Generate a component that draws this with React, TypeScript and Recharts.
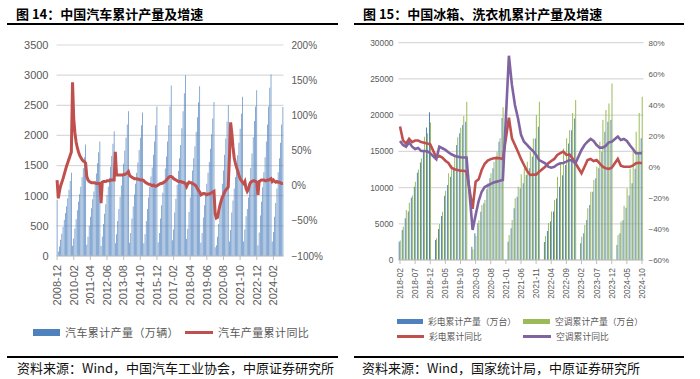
import { Bar, CartesianGrid, ComposedChart, Line, XAxis, YAxis } from "recharts";

// 图14 汽车累计产量（万辆），2008-12 ~ 2024-10，按年分行
const carOutput = [
  935,
  74, 157, 268, 368, 482, 600, 714, 824, 957, 1100, 1245, 1380,
  168, 292, 455, 611, 760, 900, 1025, 1150, 1306, 1456, 1640, 1850,
  185, 320, 500, 650, 790, 940, 1070, 1210, 1370, 1540, 1720, 1900,
  165, 325, 530, 700, 860, 1010, 1150, 1300, 1480, 1660, 1860, 2070,
  210, 360, 580, 780, 980, 1170, 1350, 1530, 1750, 1960, 2180, 2400,
  220, 380, 620, 820, 1020, 1200, 1380, 1550, 1760, 1960, 2170, 2380,
  210, 360, 580, 780, 970, 1150, 1320, 1470, 1680, 1900, 2170, 2480,
  230, 380, 620, 840, 1050, 1250, 1450, 1650, 1900, 2170, 2480, 2830,
  260, 440, 720, 950, 1180, 1410, 1620, 1840, 2120, 2400, 2700, 3000,
  280, 450, 730, 970, 1200, 1420, 1620, 1820, 2060, 2300, 2550, 2815,
  220, 380, 640, 840, 1020, 1200, 1380, 1560, 1780, 2020, 2280, 2555,
  145, 180, 320, 530, 750, 990, 1200, 1420, 1680, 1950, 2230, 2500,
  240, 430, 720, 920, 1120, 1310, 1490, 1670, 1880, 2110, 2360, 2640,
  240, 440, 660, 780, 970, 1220, 1460, 1700, 1970, 2240, 2480, 2750,
  180, 390, 670, 900, 1140, 1390, 1640, 1900, 2180, 2480, 2790, 3010,
  240, 400, 650, 880, 1120, 1390, 1620, 1880, 2180, 2470,
];

// 汽车产量累计同比（%）
const carYoY = [
  8,
  -18, -8, 0, 5, 10, 16, 22, 28, 33, 38, 43, 48,
  147, 95, 75, 62, 54, 48, 43, 40, 37, 35, 34, 32,
  13, 8, 6, 5, 4, 4, 4, 4, 3, 3, 3, 3,
  -25, 5, 6, 6, 6, 7, 7, 7, 8, 8, 8, 8,
  48, 15, 15, 15, 15, 15, 15, 16, 16, 17, 18, 20,
  15, 13, 12, 11, 10, 10, 10, 9, 9, 8, 8, 8,
  7, 5, 4, 3, 2, 2, 1, 0, 1, 0, -1, 0,
  1, 2, 3, 3, 4, 5, 6, 8, 10, 12, 13, 13,
  12, 10, 9, 8, 7, 6, 6, 6, 5, 5, 4, 3,
  -1, 3, 5, 4, 4, 3, 2, 1, -1, -4, -7, -9,
  -13, -12, -11, -11, -12, -13, -12, -12, -11, -10, -9, -8,
  -40, -46, -45, -36, -28, -22, -17, -13, -9, -6, -4, -2,
  40, 90, 75, 55, 40, 32, 26, 21, 15, 10, 7, 5,
  3, 6, -4, -8, -5, 2, 5, 6, 7, 7, 6, 5,
  -13, 6, 7, 8, 8, 8, 7, 7, 8, 8, 9, 10,
  6, 8, 6, 5, 6, 5, 5, 4, 3, 3,
];

// 图15，2018-02 ~ 2024-10，1月无数据
const tvOutput = [
  2520, 4150, 5750, 6700, 8600, 10100, 12050, 13450, 15000, 18300, 20400,
  null, 2760, 4280, 6070, 8880, 10350, 11500, 12430, 15880, 17490, 18640, 19100,
  null, 1840, 3680, 5060, 6670, 7820, 9760, 11270, 12650, 14040, 16340, 19600,
  null, 2530, 4370, 7130, 8740, 9890, 10580, 11730, 12650, 14260, 16790, 18400,
  null, 2500, 4000, 5300, 6700, 8500, 10100, 11700, 13100, 16100, 17900, 19550,
  null, 2300, 3680, 5520, 7590, 9430, 11270, 12650, 14950, 17710, 19090, 19320,
  null, 2070, 3700, 5500, 7200, 8900, 10600, 12600, 14700, 16800,
];

const acOutput = [
  2700, 4600, 6900, 7900, 8900, 10800, 12500, 14000, 17000, 17500, 19000,
  null, 3000, 4970, 6670, 9570, 11960, 13120, 14360, 16930, 18270, 19880, 21860,
  null, 1500, 3300, 5500, 7600, 8280, 10580, 11960, 13580, 14960, 16800, 21100,
  null, 3450, 5520, 8510, 10120, 11830, 12650, 13570, 14950, 16790, 20010, 21850,
  null, 3300, 5100, 6700, 8300, 11500, 13500, 15400, 16800, 17900, 20300, 22100,
  null, 3220, 4830, 7130, 9430, 11040, 12880, 16330, 19320, 20700, 21620, 24380,
  null, 3450, 5300, 7500, 9900, 12600, 15000, 17700, 20300, 22540,
];

const tvYoY = [
  26, 17, 15, 18, 16, 17, 17, 16, 15.5, 15, 14.5,
  null, 6, 7, 6, 4, 2.5, -0.5, -1.5, -2, -2.5, -2.5, -3,
  null, -27, -9.5, -8, -2, 2, 4, 5, 5.5, 5.8, 5.5, 5,
  null, 31.7, 18.4, 14.1, 9.8, 5.1, 1.2, -2.6, -5.2, -5, -5, -3.1,
  null, 0.1, 2.3, 3.8, 5.1, 7.7, 8.8, 9.8, 7.7, 8, 5.5, 2.3,
  null, -4.1, 0.1, 4.4, 5.1, 3.8, 4.4, 2.3, 0.1, -0.9, -1.3, -0.5,
  null, 5.1, 0.8, 0.1, 0.1, 0.1, 0.8, 2.3, 2.6, 2.3,
];

const acYoY = [
  16.7, 14.1, 13, 15.8, 13, 11.5, 12.2, 10.2, 10.2, 10, 8.8,
  null, 5, 13, 12, 10.9, 9.4, 8.1, 7.2, 6.6, 6.2, 6, 6,
  null, -40.6, -31, -22, -16, -13, -12, -11, -10, -9.5, -9, -8.4,
  null, 71.6, 52.8, 39.9, 31.3, 20.6, 16.2, 14.1, 12, 10.2, 7.7, 4.4,
  null, 2.3, 0.1, -0.5, 0.1, 1.5, 2.3, 2.5, 3.4, 4.4, 4, 2.3,
  null, 10.9, 14.1, 16.2, 18, 16.7, 14.1, 12.4, 12.4, 13.5, 15.8, 16.2,
  null, 19.5, 17.3, 18, 16.7, 13.9, 11.5, 8.8, 8.8, 8.8,
];

const carLeftTicks = [0, 500, 1000, 1500, 2000, 2500, 3000, 3500];
const carRightTicks = [-100, -50, 0, 50, 100, 150, 200];
const applLeftTicks = [0, 5000, 10000, 15000, 20000, 25000, 30000];
const applRightTicks = [-60, -40, -20, 0, 20, 40, 60, 80];

function monthRange(year: number, month: number, count: number) {
  const out: string[] = [];
  let y = year;
  let m = month;
  for (let i = 0; i < count; i++) {
    out.push(`${y}-${String(m).padStart(2, "0")}`);
    m += 1;
    if (m > 12) {
      m = 1;
      y += 1;
    }
  }
  return out;
}

const carMonths = monthRange(2008, 12, carOutput.length);
const applMonths = monthRange(2018, 2, tvOutput.length);

const carData = carMonths.map((month, i) => ({
  month,
  output: carOutput[i],
  yoy: carYoY[i],
}));

const applData = applMonths.map((month, i) => ({
  month,
  tv: tvOutput[i],
  ac: acOutput[i],
  tvYoY: tvYoY[i],
  acYoY: acYoY[i],
}));

const NUM_FONT = '"Liberation Sans", Arial, sans-serif';
const CJK_FONT = '"Noto Sans CJK SC", "Noto Sans", sans-serif';
const AXIS_GRAY = "#595959";

function pct(v: number) {
  return v < 0 ? `\u2212${Math.abs(v)}%` : `${v}%`;
}

function VerticalTick(props: any) {
  const { x, y, payload, fontSize } = props;
  return (
    <text
      x={x}
      y={y}
      dy="0.35em"
      textAnchor="end"
      transform={`rotate(-90, ${x}, ${y})`}
      fill={AXIS_GRAY}
      fontSize={fontSize}
      fontFamily={NUM_FONT}
    >
      {payload.value}
    </text>
  );
}

function Title({ left, text }: { left: number; text: string }) {
  return (
    <div
      style={{
        position: "absolute",
        left,
        top: 5,
        fontFamily: CJK_FONT,
        fontWeight: 700,
        fontSize: 13,
        lineHeight: "17px",
        color: "#000",
        whiteSpace: "nowrap",
      }}
    >
      {text}
    </div>
  );
}

function Rule({ left, top, width }: { left: number; top: number; width: number }) {
  return (
    <div
      style={{ position: "absolute", left, top, width, height: 2, background: "#000" }}
    />
  );
}

function LegendItem({
  left,
  top,
  color,
  kind,
  label,
  swatchWidth,
  fontSize,
}: {
  left: number;
  top: number;
  color: string;
  kind: "box" | "line";
  label: string;
  swatchWidth: number;
  fontSize: number;
}) {
  const h = kind === "box" ? (fontSize > 10 ? 7 : 5) : 3;
  return (
    <div
      style={{
        position: "absolute",
        left,
        top: top - 8,
        height: 16,
        display: "flex",
        alignItems: "center",
        whiteSpace: "nowrap",
      }}
    >
      <div style={{ width: swatchWidth, height: h, background: color }} />
      <span
        style={{
          marginLeft: 5,
          fontFamily: CJK_FONT,
          fontSize,
          color: AXIS_GRAY,
          letterSpacing: fontSize > 10 ? 0.4 : 0,
        }}
      >
        {label}
      </span>
    </div>
  );
}

function Source({ left, text }: { left: number; text: string }) {
  return (
    <div
      style={{
        position: "absolute",
        left,
        top: 360,
        fontFamily: CJK_FONT,
        fontSize: 13,
        lineHeight: "16px",
        color: "#111",
        whiteSpace: "nowrap",
      }}
    >
      {text}
    </div>
  );
}

export default function App() {
  return (
    <div
      style={{
        position: "absolute",
        left: 0,
        top: 0,
        width: 700,
        height: 379,
        background: "#fff",
        overflow: "hidden",
      }}
    >
      <Title left={16} text="图 14：中国汽车累计产量及增速" />
      <Rule left={7} top={23} width={331} />
      <Title left={363} text="图 15：中国冰箱、洗衣机累计产量及增速" />
      <Rule left={354} top={23} width={330} />

      <div style={{ position: "absolute", left: 0, top: 0 }}>
        <ComposedChart
          width={350}
          height={379}
          data={carData}
          margin={{ top: 45, right: 16.5, bottom: 73, left: 6.5 }}
          barCategoryGap="22%"
        >
          <CartesianGrid yAxisId="left" vertical={false} stroke="#D9D9D9" strokeWidth={1.2} />
          <XAxis
            dataKey="month"
            interval={13}
            height={50}
            tickSize={4}
            tickMargin={5}
            axisLine={{ stroke: "#BFBFBF" }}
            tickLine={{ stroke: "#BFBFBF" }}
            tick={(p: any) => <VerticalTick {...p} fontSize={11} />}
          />
          <YAxis
            yAxisId="left"
            width={50}
            domain={[0, 3500]}
            ticks={carLeftTicks}
            axisLine={false}
            tickLine={false}
            tick={{ fill: AXIS_GRAY, fontSize: 11, fontFamily: NUM_FONT }}
          />
          <YAxis
            yAxisId="right"
            orientation="right"
            width={50}
            domain={[-100, 200]}
            ticks={carRightTicks}
            tickFormatter={pct}
            axisLine={false}
            tickLine={false}
            tick={{ fill: AXIS_GRAY, fontSize: 10, fontFamily: NUM_FONT, textAnchor: "start" }}
          />
          <Bar
            yAxisId="left"
            dataKey="output"
            fill="#4F81BD"
            isAnimationActive={false}
          />
          <Line
            yAxisId="right"
            dataKey="yoy"
            stroke="#C0504D"
            strokeWidth={3}
            dot={false}
            activeDot={false}
            isAnimationActive={false}
          />
        </ComposedChart>
      </div>

      <div style={{ position: "absolute", left: 350, top: 0 }}>
        <ComposedChart
          width={350}
          height={379}
          data={applData}
          margin={{ top: 42.7, right: 6.5, bottom: 69, left: 6.5 }}
          barCategoryGap="8%"
          barGap={0}
        >
          <CartesianGrid yAxisId="left" vertical={false} stroke="#D9D9D9" strokeWidth={1.2} />
          <XAxis
            dataKey="month"
            interval={4}
            height={50}
            tickSize={4}
            tickMargin={4}
            axisLine={{ stroke: "#BFBFBF" }}
            tickLine={{ stroke: "#BFBFBF" }}
            tick={(p: any) => <VerticalTick {...p} fontSize={8.4} />}
          />
          <YAxis
            yAxisId="left"
            width={42}
            domain={[0, 30000]}
            ticks={applLeftTicks}
            axisLine={false}
            tickLine={false}
            tickSize={0}
            tickMargin={5}
            tick={{ fill: AXIS_GRAY, fontSize: 8.4, fontFamily: NUM_FONT }}
          />
          <YAxis
            yAxisId="right"
            orientation="right"
            width={50}
            domain={[-60, 80]}
            ticks={applRightTicks}
            tickFormatter={pct}
            axisLine={false}
            tickLine={false}
            tickSize={0}
            tickMargin={5}
            tick={{ fill: AXIS_GRAY, fontSize: 8, fontFamily: NUM_FONT, textAnchor: "start" }}
          />
          <Bar yAxisId="left" dataKey="tv" fill="#4F81BD" isAnimationActive={false} />
          <Bar yAxisId="left" dataKey="ac" fill="#9BBB59" isAnimationActive={false} />
          <Line
            yAxisId="right"
            dataKey="tvYoY"
            stroke="#C0504D"
            strokeWidth={2.6}
            dot={false}
            activeDot={false}
            connectNulls
            isAnimationActive={false}
          />
          <Line
            yAxisId="right"
            dataKey="acYoY"
            stroke="#8064A2"
            strokeWidth={2.6}
            dot={false}
            activeDot={false}
            connectNulls
            isAnimationActive={false}
          />
        </ComposedChart>
      </div>

      <LegendItem left={33} top={332} color="#4F81BD" kind="box" swatchWidth={27} fontSize={11} label="汽车累计产量（万辆）" />
      <LegendItem left={185} top={332} color="#C0504D" kind="line" swatchWidth={28} fontSize={11} label="汽车产量累计同比" />

      <LegendItem left={397} top={321} color="#4F81BD" kind="box" swatchWidth={26} fontSize={8.8} label="彩电累计产量（万台）" />
      <LegendItem left={523} top={321} color="#9BBB59" kind="box" swatchWidth={27} fontSize={8.8} label="空调累计产量（万台）" />
      <LegendItem left={397} top={336} color="#C0504D" kind="line" swatchWidth={27} fontSize={8.8} label="彩电累计同比" />
      <LegendItem left={523} top={336} color="#8064A2" kind="line" swatchWidth={28} fontSize={8.8} label="空调累计同比" />

      <Rule left={7} top={356} width={331} />
      <Rule left={354} top={356} width={330} />
      <Source left={17} text="资料来源：Wind，中国汽车工业协会，中原证券研究所" />
      <Source left={362} text="资料来源：Wind，国家统计局，中原证券研究所" />
    </div>
  );
}
